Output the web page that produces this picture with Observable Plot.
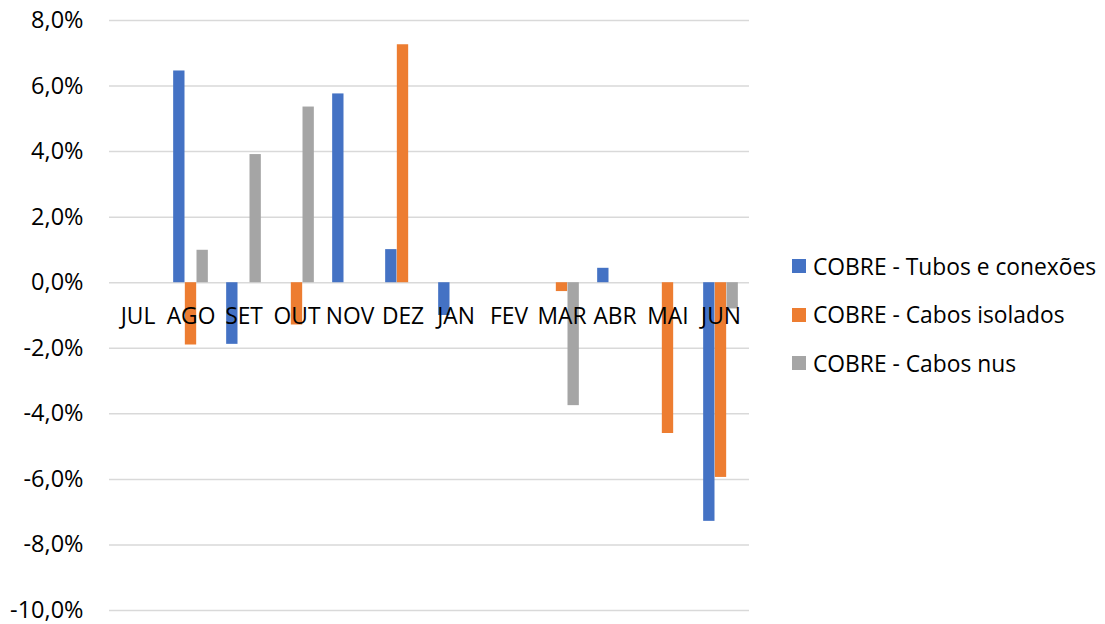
<!DOCTYPE html>
<html>
<head>
<meta charset="utf-8">
<script src="https://cdn.jsdelivr.net/npm/d3@7"></script>
<script src="https://cdn.jsdelivr.net/npm/@observablehq/plot@0.6"></script>
<style>
  html, body { margin: 0; padding: 0; background: #fff; }
  #wrap { position: relative; width: 1105px; height: 624px; font-family: "Open Sans", sans-serif; }
  #legend { position: absolute; left: 792px; top: 242px; }
  .item { display: flex; align-items: center; height: 48.5px; font-size: 22.8px; color: #000; white-space: nowrap; }
  .sw { width: 14px; height: 14px; margin-right: 7px; flex: none; }
</style>
</head>
<body>
<div id="wrap"><div id="chart"></div><div id="legend"></div></div>
<script>
const months = ["JUL","AGO","SET","OUT","NOV","DEZ","JAN","FEV","MAR","ABR","MAI","JUN"];
const seriesNames = ["COBRE - Tubos e conexões","COBRE - Cabos isolados","COBRE - Cabos nus"];
const colors = ["#4472C4","#ED7D31","#A5A5A5"];
const tubos   = [0, 6.46, -1.88, 0, 5.76, 1.01, -1.0, 0, 0, 0.44, 0, -7.28];
const isolados = [0, -1.90, 0, -1.29, 0, 7.26, 0, 0, -0.27, 0, -4.60, -5.94];
const nus     = [0, 0.99, 3.91, 5.36, 0, 0, 0, 0, -3.75, 0, 0, -0.8];
const yTicks = [8, 6, 4, 2, 0, -2, -4, -6, -8, -10];

const seriesValues = [tubos, isolados, nus];
const data = [];
seriesValues.forEach((vals, s) => vals.forEach((v, i) => {
  if (v !== 0) data.push({month: months[i], series: seriesNames[s], si: s, value: v});
}));

const step = 640 / 12;
const bw = 11.67;
const inset = (step - bw) / 2;
const fmt = d => d.toFixed(1).replace(".", ",") + "%";

const barMarks = seriesNames.map((name, s) =>
  Plot.barY(data.filter(d => d.si === s), {
    x: "month", y: "value", fill: colors[s],
    insetLeft: inset, insetRight: inset, dx: (s - 1) * bw
  })
);

const chart = Plot.plot({
  width: 770,
  height: 624,
  marginLeft: 109,
  marginRight: 21,
  marginTop: 20,
  marginBottom: 14,
  style: { fontFamily: "Open Sans, sans-serif", background: "#fff", overflow: "visible" },
  x: { domain: months, padding: 0, axis: null },
  y: { domain: [-10, 8], ticks: yTicks, tickFormat: fmt, label: null },
  marks: [
    Plot.ruleY(yTicks, { stroke: "#D9D9D9", strokeWidth: 1.5 }),
    Plot.axisY({ ticks: yTicks, tickFormat: fmt, tickSize: 0, tickPadding: 26, fontSize: 23.5, label: null, fill: "#000" }),
    ...barMarks,
    Plot.text(months, { x: d => d, y: () => 0, dy: 34, text: d => d, fontSize: 22.8, fill: "#000" })
  ]
});
document.getElementById("chart").appendChild(chart);

const legend = document.getElementById("legend");
seriesNames.forEach((name, s) => {
  const item = document.createElement("div");
  item.className = "item";
  item.innerHTML = `<span class="sw" style="background:${colors[s]}"></span><span>${name}</span>`;
  legend.appendChild(item);
});
</script>
</body>
</html>
